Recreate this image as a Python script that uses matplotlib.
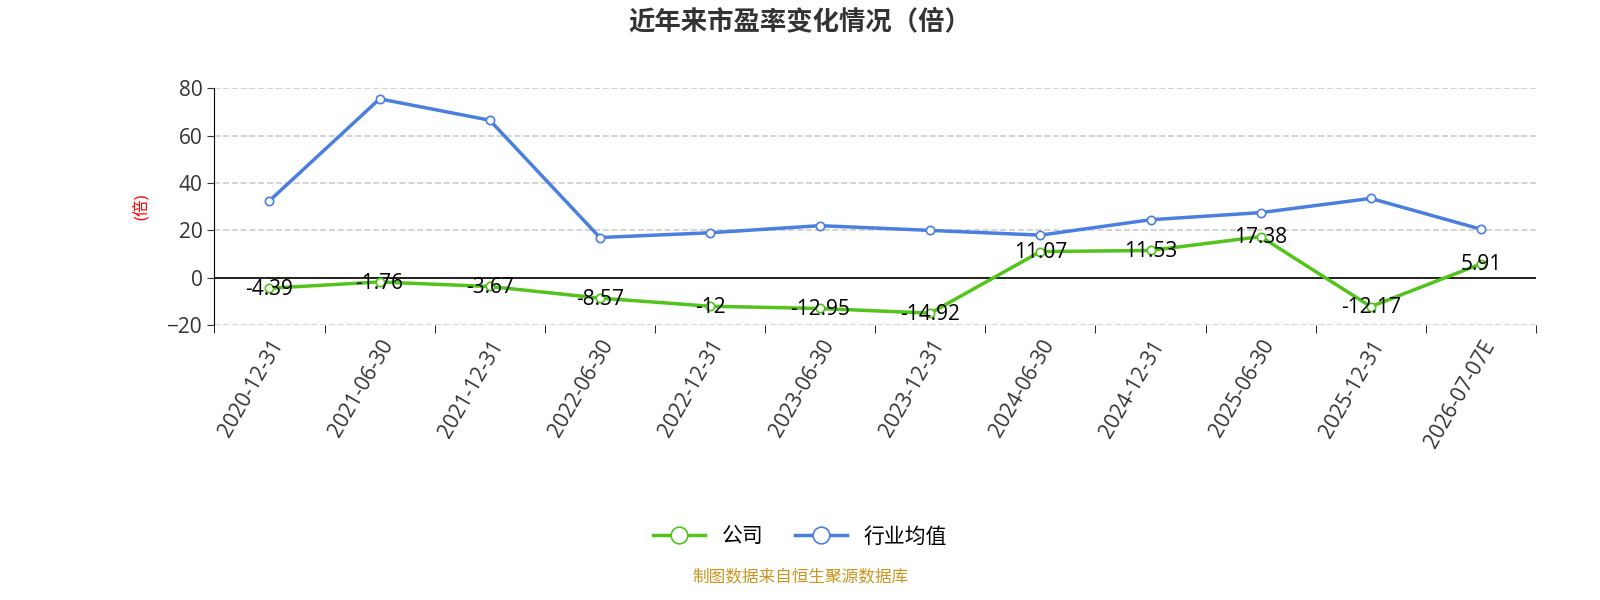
import matplotlib.pyplot as plt
import numpy as np

plt.rcParams['font.family'] = ['Open Sans', 'Noto Sans CJK SC', 'DejaVu Sans']

dates = ['2020-12-31', '2021-06-30', '2021-12-31', '2022-06-30', '2022-12-31', '2023-06-30',
         '2023-12-31', '2024-06-30', '2024-12-31', '2025-06-30', '2025-12-31', '2026-07-07E']
company = [-4.39, -1.76, -3.67, -8.57, -12, -12.95, -14.92, 11.07, 11.53, 17.38, -12.17, 5.91]
company_labels = ['-4.39', '-1.76', '-3.67', '-8.57', '-12', '-12.95', '-14.92', '11.07', '11.53', '17.38', '-12.17', '5.91']
industry = [32.5, 75.5, 66.5, 17.0, 19.0, 22.0, 20.0, 18.0, 24.5, 27.5, 33.5, 20.5]

green = '#52c41a'
blue = '#4a7fe0'

fig = plt.figure(figsize=(16, 6), dpi=100)
ax = fig.add_axes([0.134, 0.458, 0.826, 0.395])
x = np.arange(len(dates))

ax.plot(x, company, color=green, lw=2.5, marker='o', ms=6, mfc='white', mec=green, mew=1.2, label='公司', zorder=3)
ax.plot(x, industry, color=blue, lw=2.5, marker='o', ms=6, mfc='white', mec=blue, mew=1.2, label='行业均值', zorder=3)
for xi, v, s in zip(x, company, company_labels):
    ax.text(xi, v - 0.5, s, ha='center', va='center', fontsize=15, color='black', zorder=4)

ax.set_xlim(-0.5, len(dates) - 0.5)
ax.set_ylim(-20, 80)
ax.set_yticks([-20, 0, 20, 40, 60, 80])
ax.tick_params(axis='y', labelsize=15, colors='#333333', length=5)
ax.set_xticks(x)
ax.set_xticklabels(dates, rotation=60, ha='right', rotation_mode='anchor', fontsize=15, color='#333333')
ax.set_xticks(np.arange(-0.5, len(dates), 1), minor=True)
ax.tick_params(axis='x', which='major', length=0, pad=8)
ax.tick_params(axis='x', which='minor', length=6)
ax.grid(axis='y', ls='--', color='#cccccc', lw=1.2)
for sp in ['top', 'right', 'bottom']:
    ax.spines[sp].set_visible(False)
ax.axhline(0, color='black', lw=1.2, zorder=2)
ax.spines['left'].set_color('black')
ax.set_ylabel('(倍)', color='red', fontsize=12, labelpad=12)

fig.text(0.5, 0.963, '近年来市盈率变化情况（倍）', ha='center', va='center', fontsize=19, fontweight='bold', color='#333333')
fig.legend(loc='center', bbox_to_anchor=(0.5, 0.105), ncol=2, frameon=False, fontsize=15,
           markerscale=2.0, handlelength=2.5, columnspacing=1.5)
fig.text(0.5, 0.037, '制图数据来自恒生聚源数据库', ha='center', va='center', fontsize=12, color='#c8961e')

fig.savefig('out.png')
